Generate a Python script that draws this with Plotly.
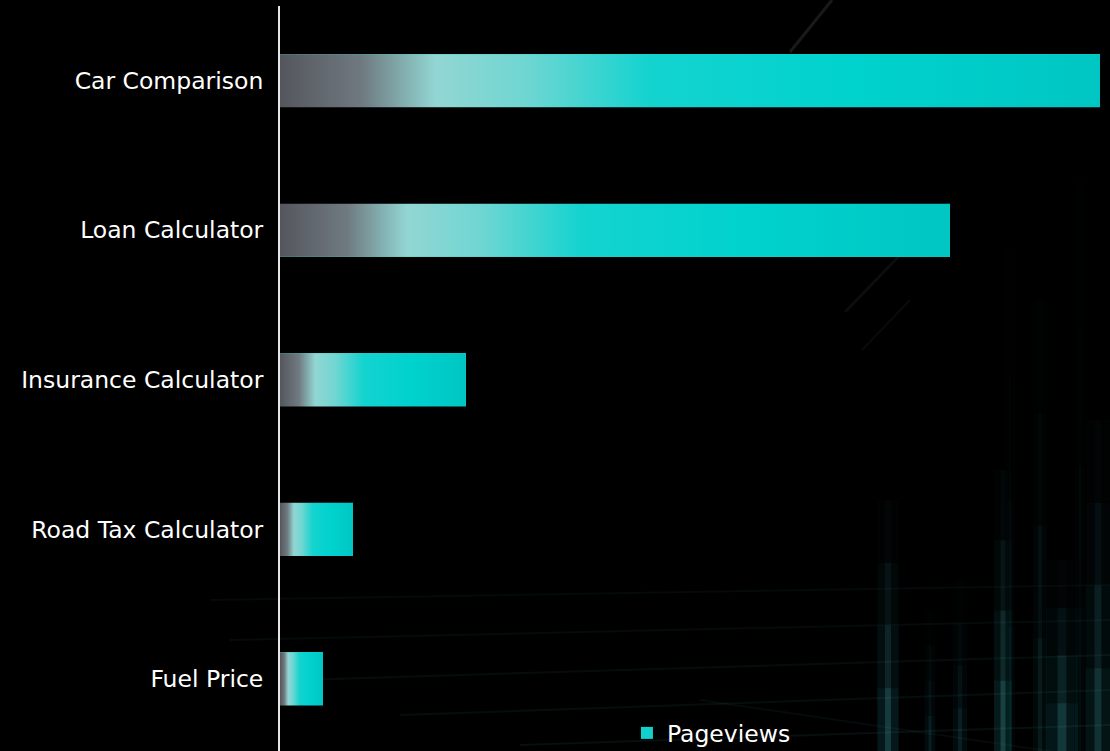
import plotly.graph_objects as go

# Pageviews per tool page
categories = ["Car Comparison", "Loan Calculator", "Insurance Calculator",
              "Road Tax Calculator", "Fuel Price"]
pageviews = [8200, 6700, 1860, 730, 430]
series_name = "Pageviews"

BAR_WIDTH = 0.356
gradient = [
    [0.0, "#55565d"],
    [0.10, "#6f7a80"],
    [0.19, "#92d6d3"],
    [0.30, "#6fd6d2"],
    [0.45, "#14d3cf"],
    [0.70, "#00d2ce"],
    [1.0, "#00c6c3"],
]

n = len(categories)
positions = list(range(n - 1, -1, -1))

fig = go.Figure()

# base bars (carry the legend entry)
fig.add_trace(go.Bar(
    x=pageviews, y=positions, orientation="h", width=BAR_WIDTH,
    name=series_name, marker=dict(color="#12d0cc", line=dict(width=0)),
    text=categories, hovertemplate="%{text}: %{x:,}<extra></extra>",
    textposition="none",
))

# gradient skin over each bar
half = BAR_WIDTH / 2
for cat, val, pos in zip(categories, pageviews, positions):
    fig.add_trace(go.Scatter(
        x=[0, val, val, 0, 0],
        y=[pos - half, pos - half, pos + half, pos + half, pos - half],
        mode="none", fill="toself",
        fillgradient=dict(type="horizontal", colorscale=gradient),
        showlegend=False, hoverinfo="skip",
    ))

# faint backdrop: light streaks and grid lines (pixel coords -> paper)
shapes = []


def px_x(x):
    return (x - 280) / 830


def px_y(y):
    return (751 - y) / 745


def add_line(x0, y0, x1, y1, color, width):
    shapes.append(dict(type="line", xref="paper", yref="paper",
                       x0=px_x(x0), y0=px_y(y0), x1=px_x(x1), y1=px_y(y1),
                       line=dict(color=color, width=width), layer="below"))


def add_rect(x0, y0, x1, y1, color):
    shapes.append(dict(type="rect", xref="paper", yref="paper",
                       x0=px_x(x0), y0=px_y(y1), x1=px_x(x1), y1=px_y(y0),
                       fillcolor=color, line=dict(width=0), layer="below"))


# diagonal light rays at the top right
add_line(790, 52, 832, 0, "rgba(170,185,185,0.14)", 3)
add_line(845, 312, 905, 250, "rgba(150,165,165,0.08)", 3)
add_line(862, 350, 910, 300, "rgba(150,165,165,0.06)", 2)

# vertical glowing streaks that brighten toward the floor
streaks = [
    (888, 500, 6, 0.22), (1003, 470, 5, 0.24), (1062, 560, 9, 0.20),
    (1098, 420, 7, 0.18), (1040, 300, 4, 0.10), (960, 580, 4, 0.12),
    (930, 610, 3, 0.12), (1080, 180, 3, 0.06), (1010, 250, 3, 0.06),
]
for x, top, w, op in streaks:
    span = 751 - top
    for k in range(4):
        seg_top = top + span * k / 4
        a = op * (k + 1) / 4
        add_rect(x - w * 1.8, seg_top, x + w * 1.8, 751, f"rgba(40,140,150,{a * 0.35:.3f})")
        add_rect(x - w / 2, seg_top, x + w / 2, 751, f"rgba(90,190,200,{a * 0.45:.3f})")

# floor grid lines near the bottom
floor = [
    (210, 600, 1110, 585, 0.05), (230, 640, 1110, 620, 0.06),
    (300, 680, 1110, 655, 0.07), (400, 715, 1110, 690, 0.08),
    (520, 745, 1110, 725, 0.09), (700, 700, 1110, 760, 0.06),
]
for x0, y0, x1, y1, op in floor:
    add_line(x0, y0, x1, y1, f"rgba(80,170,180,{op})", 2)

fig.update_layout(
    width=1110,
    height=751,
    margin=dict(l=280, r=0, t=6, b=0, autoexpand=False),
    paper_bgcolor="#000000",
    plot_bgcolor="rgba(0,0,0,0)",
    font=dict(family="DejaVu Sans, sans-serif", size=23.5, color="#ffffff"),
    shapes=shapes,
    bargap=0,
    xaxis=dict(range=[0, 8300], showgrid=False, zeroline=False,
               showticklabels=False, showline=False, fixedrange=True),
    yaxis=dict(range=[-0.483, 4.5], showgrid=False, zeroline=False,
               tickmode="array", tickvals=positions,
               ticktext=categories, ticks="", ticklabelstandoff=10,
               showline=True, linecolor="#e6e6e6", linewidth=2,
               tickfont=dict(size=23.5, color="#ffffff")),
    legend=dict(orientation="h", x=0.418, xanchor="left", y=0.024,
                yanchor="middle", bgcolor="rgba(0,0,0,0)",
                font=dict(size=23.5, color="#ffffff")),
    showlegend=True,
)

fig.write_html("out.html")
